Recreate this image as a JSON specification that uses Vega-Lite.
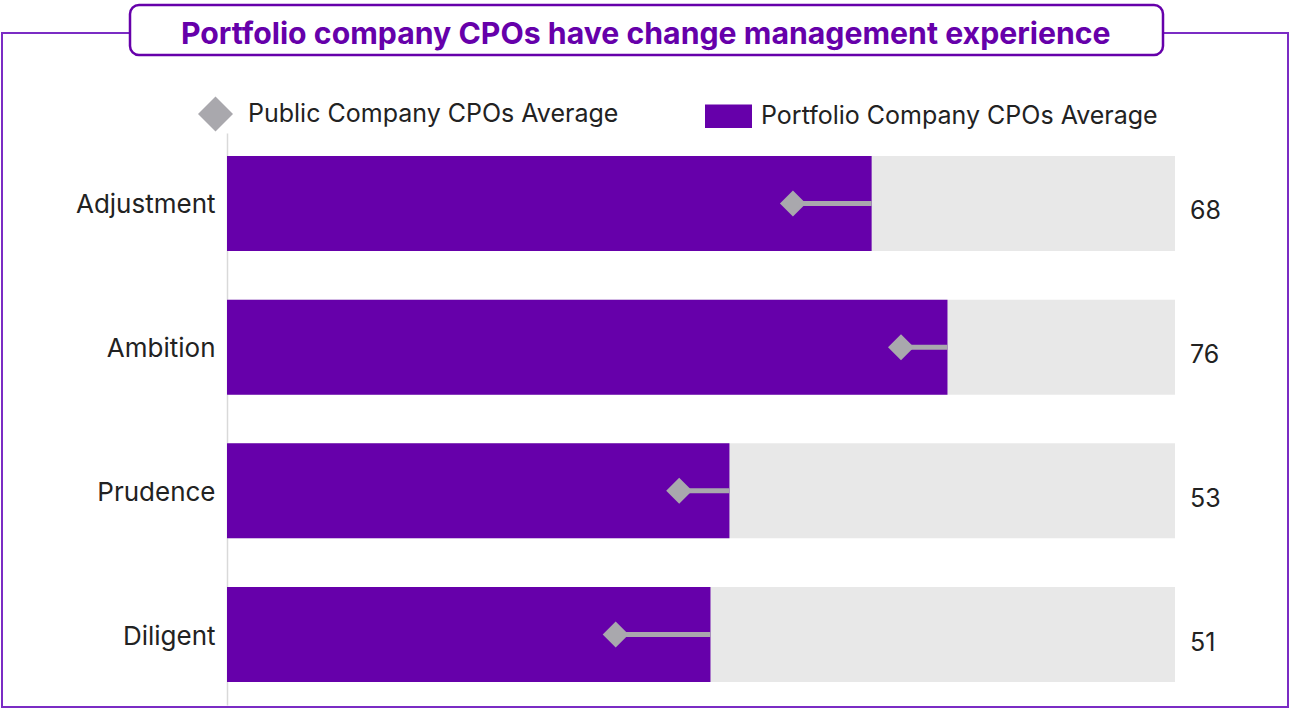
{
  "$schema": "https://vega.github.io/schema/vega-lite/v6.json",
  "autosize": "none",
  "padding": {"left": 2, "top": 33, "right": 1, "bottom": 2},
  "background": "white",
  "width": 1286,
  "height": 674,
  "config": {"font": "Inter", "legend": {"strokeWidth": 2.5}},
  "view": {"stroke": "#7b2cc4", "strokeWidth": 2, "strokeDash": [128, 1033, 4000, 0]},
  "data": {"values": [
    {"category": "Adjustment", "portfolio": 68, "public": 59.7},
    {"category": "Ambition", "portfolio": 76, "public": 71.1},
    {"category": "Prudence", "portfolio": 53, "public": 47.7},
    {"category": "Diligent", "portfolio": 51, "public": 41.0}
  ]},
  "encoding": {
    "y": {
      "field": "category", "type": "nominal", "sort": null,
      "scale": {"range": [100, 672], "paddingInner": 0.339, "paddingOuter": 0.16},
      "axis": {"title": null, "offset": -225, "ticks": false, "labelFontSize": 26, "labelColor": "#222222", "labelPadding": 12, "labelOffset": 2, "domainColor": "#d9d9d9", "domainWidth": 1.5, "labelFont": "Inter", "grid": false}
    }
  },
  "layer": [
    {
      "mark": {"type": "bar", "color": "#E8E8E8"},
      "encoding": {
        "x": {"datum": 0, "type": "quantitative", "scale": {"domain": [0, 100], "range": [225, 1173], "nice": false}, "axis": null},
        "x2": {"datum": 100}
      }
    },
    {
      "mark": {"type": "bar"},
      "encoding": {
        "x": {"field": "portfolio", "type": "quantitative"},
        "color": {
          "datum": "Portfolio Company CPOs Average",
          "scale": {"domain": ["Public Company CPOs Average", "Portfolio Company CPOs Average"], "range": ["#A9A8AD", "#6600AA"]},
          "legend": {
            "title": null, "orient": "none", "legendX": 190, "legendY": 57, "direction": "horizontal",
            "labelFontSize": 25, "labelColor": "#222222", "labelFont": "Inter", "labelOffset": 9,
            "columnPadding": 86, "symbolSize": 2209, "padding": 0, "labelLimit": 0,
            "symbolStrokeWidth": 0, "symbolOpacity": 1,
            "encode": {"symbols": {"update": {
              "shape": {"signal": "datum.value === 'Public Company CPOs Average' ? 'M-0.745,0L0,-0.745L0.745,0L0,0.745Z' : 'M-1,-0.5H1V0.5H-1Z'"},
              "fill": {"signal": "datum.value === 'Public Company CPOs Average' ? '#A9A8AD' : '#6600AA'"},
              "strokeWidth": {"value": 0},
              "opacity": {"value": 1}
            }}}
          }
        }
      }
    },
    {
      "mark": {"type": "rule", "color": "#A9A8AD", "strokeWidth": 5},
      "encoding": {
        "x": {"field": "public", "type": "quantitative"},
        "x2": {"field": "portfolio"},
        "strokeDash": {
          "datum": "chart title",
          "scale": {"range": [[1, 0]]},
          "legend": {
            "orient": "none", "legendX": 128, "legendY": -28,
            "title": "Portfolio company CPOs have change management experience",
            "titleOrient": "top", "titleAnchor": "middle", "titleAlign": "center",
            "titleBaseline": "line-top", "titleLineHeight": 50.75,
            "titleFont": "Inter", "titleFontSize": 30.25, "titleFontWeight": 700, "titleColor": "#6600AA",
            "titleLimit": 2000, "titlePadding": 0,
            "padding": 4.75, "strokeColor": "#6600AA", "fillColor": "white", "cornerRadius": 9,
            "symbolSize": 1, "symbolOpacity": 0, "symbolStrokeWidth": 0,
            "labelFontSize": 1, "labelOpacity": 0, "labelOffset": 1017.5, "labelLimit": 0,
            "encode": {
              "legend": {"update": {"strokeWidth": {"value": 2.5}}}
            }
          }
        }
      }
    },
    {
      "mark": {"type": "point", "shape": "M-1,0L0,-1L1,0L0,1Z", "filled": true, "size": 676, "opacity": 1, "strokeWidth": 0},
      "encoding": {
        "x": {"field": "public", "type": "quantitative"},
        "color": {"datum": "Public Company CPOs Average"}
      }
    },
    {
      "mark": {"type": "text", "align": "left", "baseline": "middle", "dx": 15, "dy": 8, "fontSize": 25, "color": "#222222", "font": "Inter"},
      "encoding": {
        "x": {"datum": 100, "type": "quantitative"},
        "text": {"field": "portfolio", "type": "quantitative"}
      }
    }
  ]
}
